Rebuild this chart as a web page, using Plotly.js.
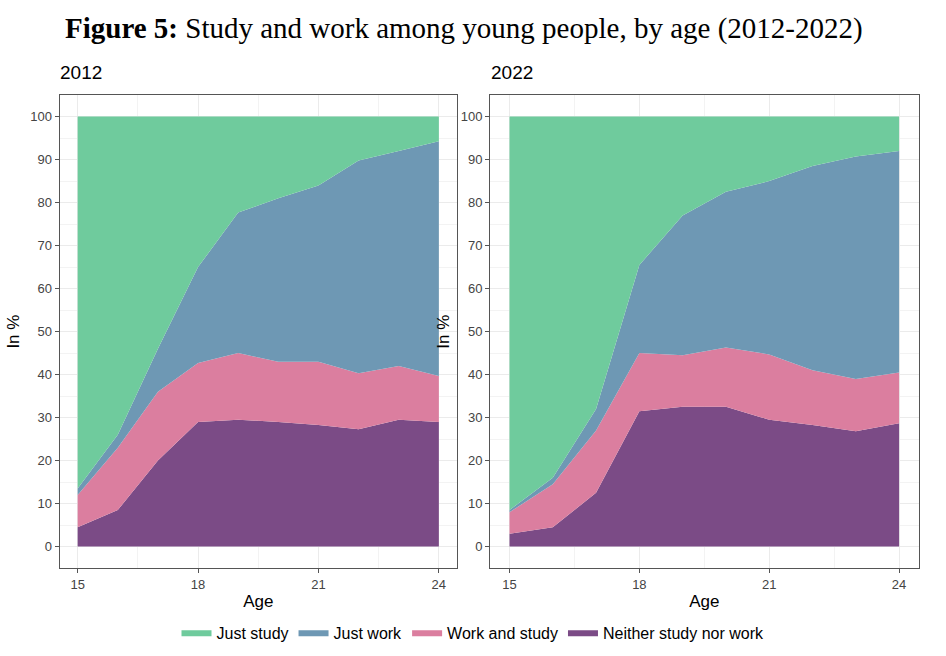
<!DOCTYPE html>
<html><head><meta charset="utf-8">
<script src="https://cdn.plot.ly/plotly-3.0.1.min.js"></script>
<style>body{margin:0;background:#fff}</style></head>
<body><div id="chart" style="width:946px;height:656px"></div>
<script>
var ages = [15, 16, 17, 18, 19, 20, 21, 22, 23, 24];
// shares in % (each category, stacked)
var neither2012 = [4.5, 8.5, 20, 29, 29.5, 29, 28.3, 27.3, 29.5, 29];
var workStudy2012 = [7.5, 14.5, 16, 13.7, 15.5, 14, 14.7, 13, 12.5, 10.7];
var justWork2012 = [1.5, 3, 10, 22.3, 32.7, 38, 41, 49.5, 50, 54.6];
var justStudy2012 = [86.5, 74, 54, 35, 22.3, 19, 16, 10.2, 8, 5.7];
var neither2022 = [3, 4.5, 12.5, 31.5, 32.5, 32.5, 29.5, 28.3, 26.8, 28.7];
var workStudy2022 = [5, 10, 14.5, 13.5, 12, 13.8, 15.2, 12.7, 12.2, 11.8];
var justWork2022 = [0.5, 1.5, 5, 20.5, 32.5, 36.2, 40.3, 47.5, 51.7, 51.5];
var justStudy2022 = [91.5, 84, 68, 34.5, 23, 17.5, 15, 11.5, 9.3, 8];

var names = ['Neither study nor work', 'Work and study', 'Just work', 'Just study'];
var colors = ['#7b4b86', '#db7e9f', '#6e98b4', '#6fcb9d'];
var sets = [
  [neither2012, workStudy2012, justWork2012, justStudy2012],
  [neither2022, workStudy2022, justWork2022, justStudy2022]
];
var data = [];
sets.forEach(function (s, p) {
  s.forEach(function (vals, i) {
    data.push({
      x: ages, y: vals, type: 'scatter', mode: 'lines',
      stackgroup: 'g' + p, name: names[i], legendgroup: names[i],
      showlegend: p === 0, line: {width: 0}, fillcolor: colors[i],
      legendrank: 4 - i,
      xaxis: p ? 'x2' : 'x', yaxis: p ? 'y2' : 'y', hoverinfo: 'none'
    });
  });
});

function xa(dom) {
  return {domain: dom, range: [14.55, 24.45], tickvals: [15, 18, 21, 24],
    showline: true, mirror: true, linecolor: '#555', ticks: 'outside', ticklen: 4,
    tickcolor: '#555', gridcolor: '#ebebeb', zeroline: false,
    minor: {dtick: 1.5, tick0: 15, showgrid: true, gridcolor: '#f3f3f3'},
    tickfont: {size: 13, color: '#444'},
    title: {text: 'Age', font: {size: 17, color: '#000'}, standoff: 4}};
}
function ya(anchor) {
  return {domain: [0.134, 0.855], range: [-5, 105], dtick: 10, anchor: anchor,
    showline: true, mirror: true, linecolor: '#555', ticks: 'outside', ticklen: 4,
    tickcolor: '#555', gridcolor: '#ebebeb', zeroline: false,
    minor: {dtick: 5, showgrid: true, gridcolor: '#f3f3f3'},
    tickfont: {size: 13, color: '#444'},
    title: {text: 'In %', font: {size: 17, color: '#000'}, standoff: 6}};
}
var layout = {
  width: 946, height: 656, margin: {l: 0, r: 0, t: 0, b: 0},
  paper_bgcolor: '#fff', plot_bgcolor: '#fff',
  font: {family: 'Liberation Sans, Arial, sans-serif'},
  xaxis: xa([0.063, 0.483]), yaxis: ya('x'),
  xaxis2: Object.assign(xa([0.518, 0.971]), {anchor: 'y2'}), yaxis2: ya('x2'),
  showlegend: true,
  legend: {orientation: 'h', x: 0.5, xanchor: 'center', y: 0.01, yanchor: 'bottom',
    font: {size: 16, color: '#000'}, traceorder: 'normal'},
  annotations: [
    {text: '<b>Figure 5:</b> Study and work among young people, by age (2012-2022)',
     xref: 'paper', yref: 'paper', x: 0.49, y: 0.985, yanchor: 'top', showarrow: false,
     font: {family: 'Liberation Serif, Times New Roman, serif', size: 29, color: '#000'}},
    {text: '2012', xref: 'paper', yref: 'paper', x: 0.061, y: 0.87, xanchor: 'left',
     yanchor: 'bottom', showarrow: false, font: {size: 19, color: '#000'}},
    {text: '2022', xref: 'paper', yref: 'paper', x: 0.517, y: 0.87, xanchor: 'left',
     yanchor: 'bottom', showarrow: false, font: {size: 19, color: '#000'}}
  ]
};
Plotly.newPlot('chart', data, layout, {staticPlot: true, displayModeBar: false});
</script></body></html>
